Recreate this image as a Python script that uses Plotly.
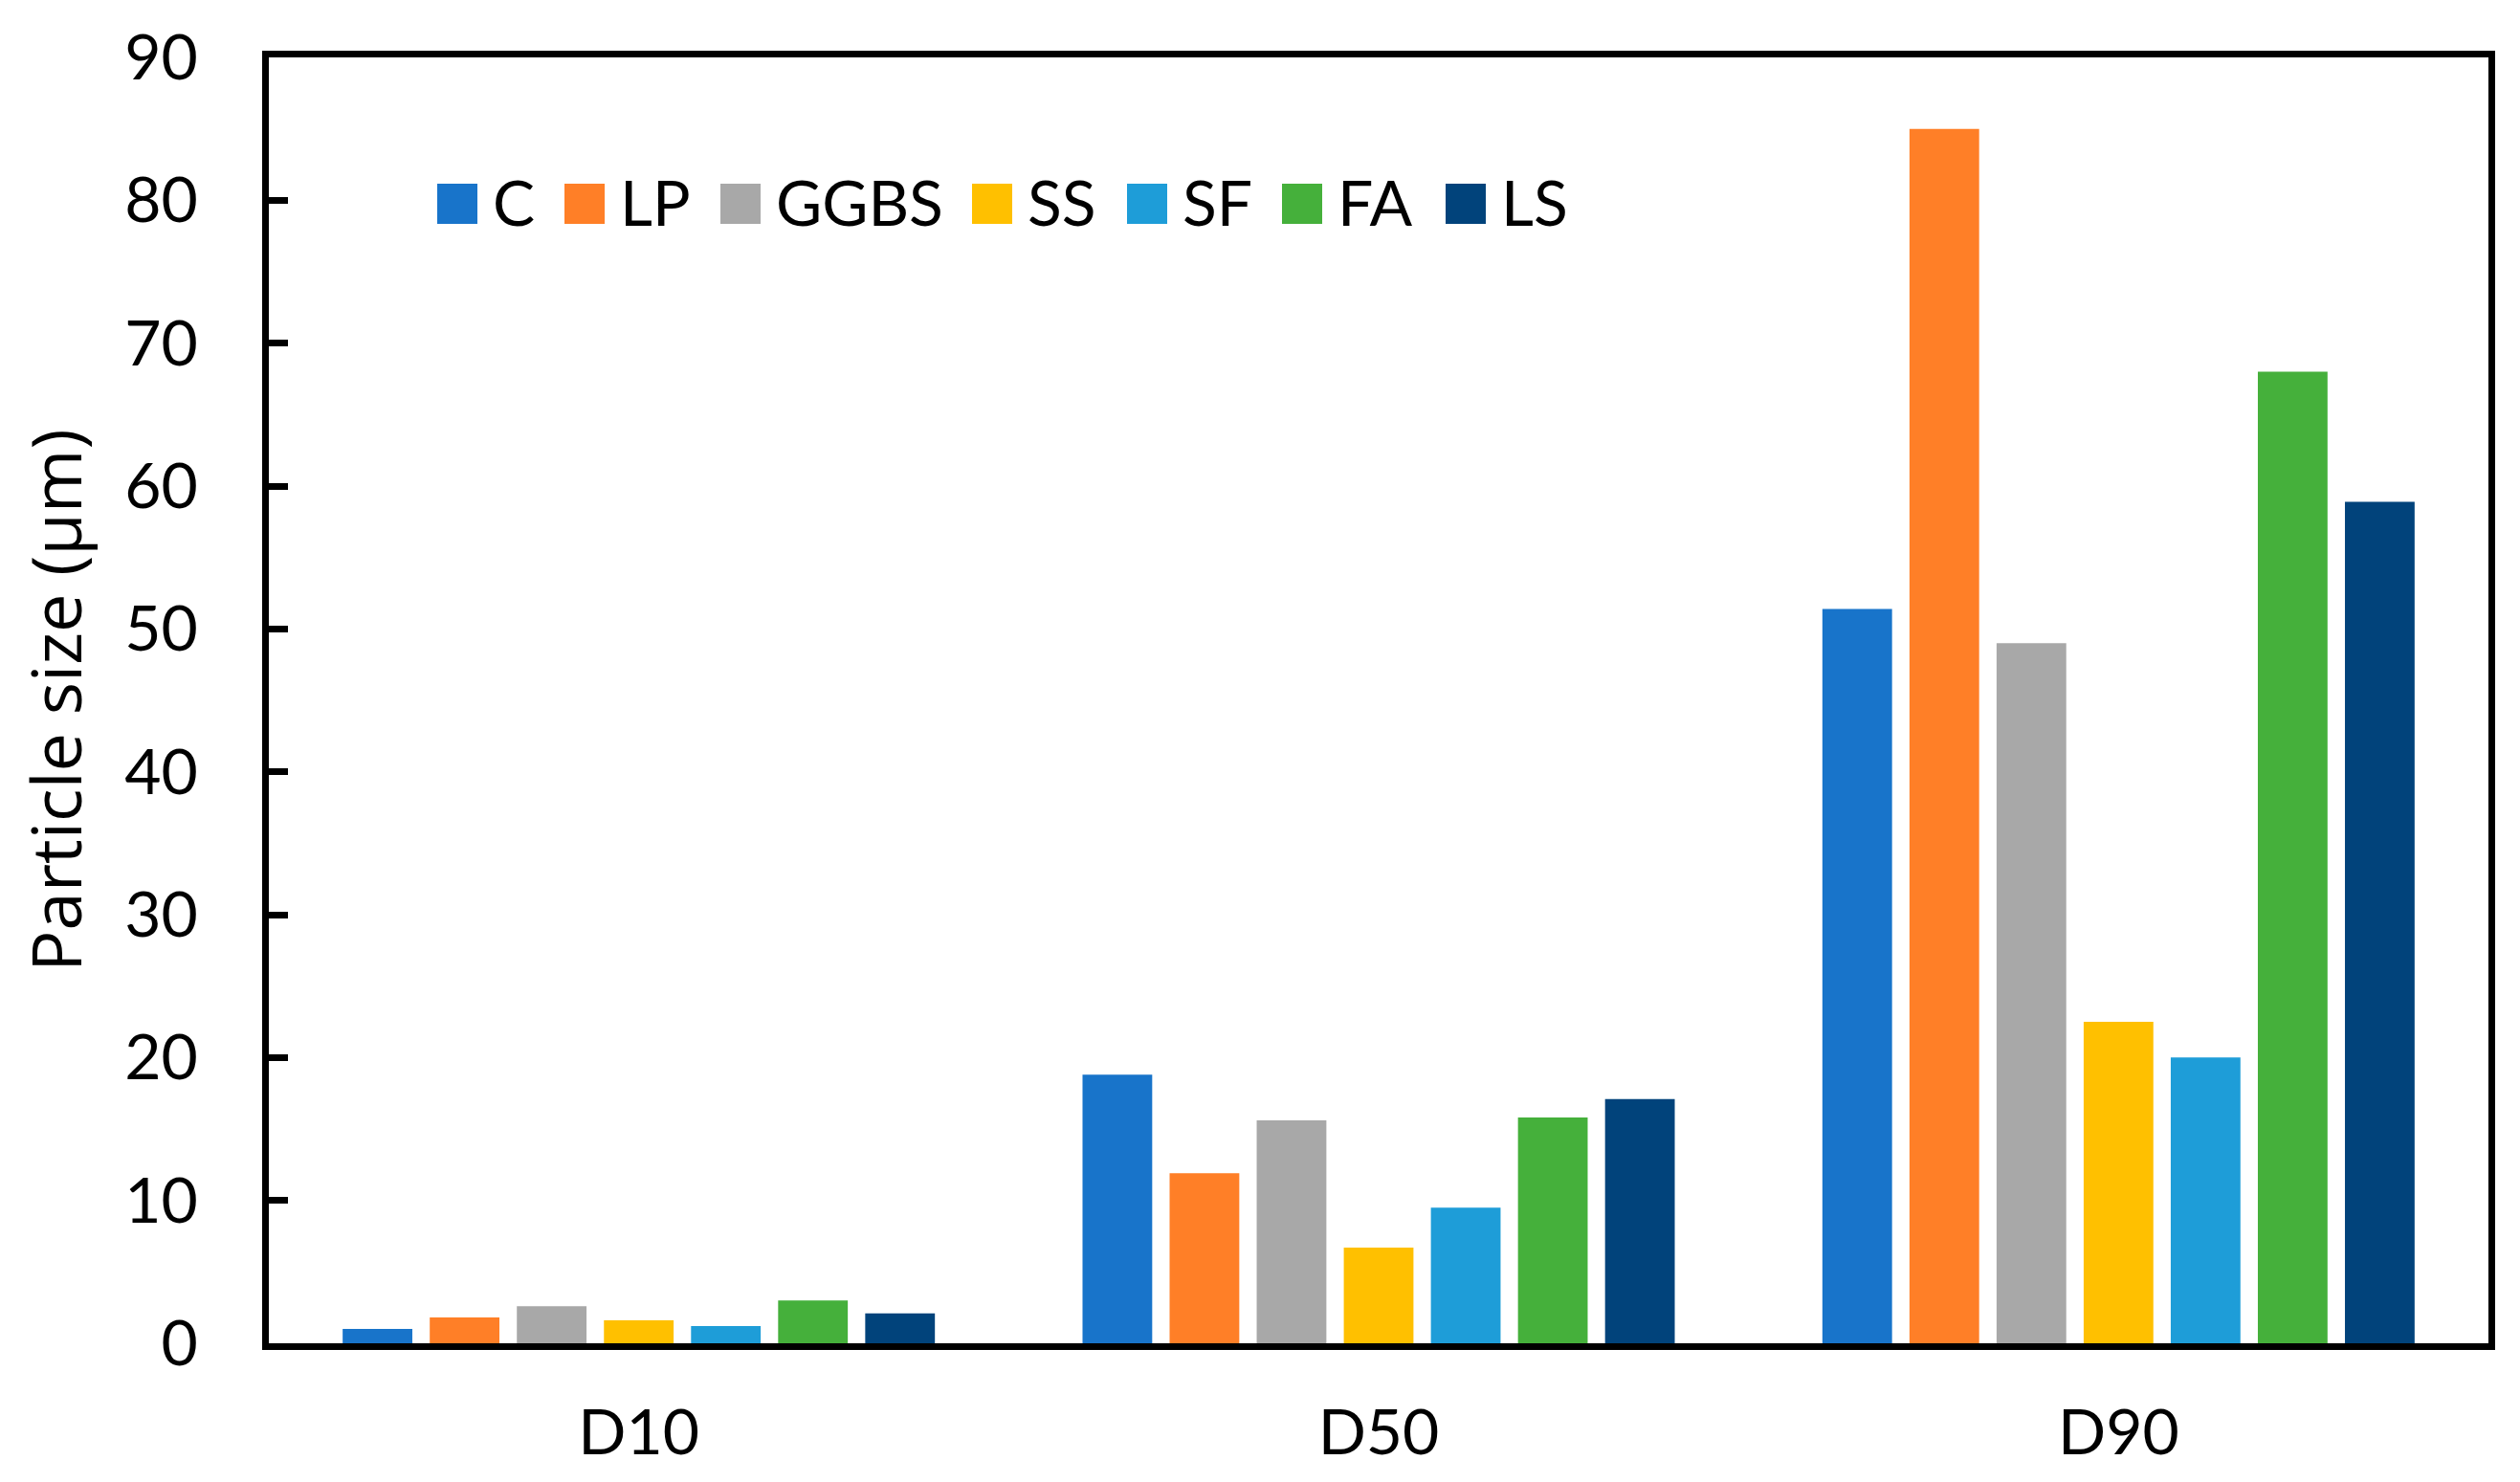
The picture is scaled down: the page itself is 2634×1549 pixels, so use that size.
import plotly.graph_objects as go

# ---------------- data ----------------
categories = ["D10", "D50", "D90"]
series_names = ["C", "LP", "GGBS", "SS", "SF", "FA", "LS"]
C_vals = [1.0, 18.8, 51.4]
LP_vals = [1.8, 11.9, 85.0]
GGBS_vals = [2.6, 15.6, 49.0]
SS_vals = [1.6, 6.7, 22.5]
SF_vals = [1.2, 9.5, 20.0]
FA_vals = [3.0, 15.8, 68.0]
LS_vals = [2.1, 17.1, 58.9]
y_ticks = [0, 10, 20, 30, 40, 50, 60, 70, 80, 90]
y_title = "Particle size (µm)"

series_values = [C_vals, LP_vals, GGBS_vals, SS_vals, SF_vals, FA_vals, LS_vals]
colors = ["#1874CA", "#FF7F27", "#A8A8A8", "#FFC000", "#1E9DD8", "#45B03B", "#01437B"]

# ---------------- layout geometry (page pixels) ----------------
OFF = 8  # default body margin of the html page
W, H = 2634 - OFF, 1549 - OFF
L, R, T, B = 281 - OFF, 2601 - OFF, 60 - OFF, 1404 - OFF  # plot area edges (figure px)

fig = go.Figure()
for name, vals, col in zip(series_names, series_values, colors):
    fig.add_trace(go.Bar(x=categories, y=vals, name=name, marker_color=col,
                         marker_line_width=0, showlegend=False))

# custom legend (large square swatches like the reference), page px
leg_swatch_left = [457, 590, 753, 1016, 1178, 1340, 1511]
sw_size = 42
sw_top = 192
pw, ph = R - L, B - T

def px_x(p):
    return (p - OFF - L) / pw

def px_y(p):
    return (B - (p - OFF)) / ph

shapes = []
annotations = []
for name, col, xl in zip(series_names, colors, leg_swatch_left):
    shapes.append(dict(type="rect", xref="paper", yref="paper",
                       x0=px_x(xl), x1=px_x(xl + sw_size),
                       y0=px_y(sw_top + sw_size), y1=px_y(sw_top),
                       fillcolor=col, line=dict(width=0)))
    annotations.append(dict(text=name, xref="paper", yref="paper",
                            x=px_x(xl + 56), y=px_y(sw_top + sw_size / 2 - 3),
                            xanchor="left", yanchor="middle", showarrow=False,
                            font=dict(family="Lato", size=66, color="black")))

fig.update_layout(
    width=W, height=H,
    margin=dict(l=L, r=W - R, t=T, b=H - B, autoexpand=False),
    paper_bgcolor="white", plot_bgcolor="white",
    barmode="group", bargap=0.176, bargroupgap=0.2,
    shapes=shapes, annotations=annotations,
    showlegend=False,
    font=dict(family="Lato", size=66, color="black"),
)
fig.update_xaxes(
    type="category", showline=True, linewidth=7, linecolor="black", mirror=True,
    ticks="", showgrid=False, zeroline=False,
    tickfont=dict(family="Lato", size=66, color="black"),
    ticklabelstandoff=30,
)
fig.update_yaxes(
    range=[0, 90], tickvals=y_ticks, showline=True, linewidth=7, linecolor="black",
    mirror=True, ticks="inside", ticklen=20, tickwidth=7, tickcolor="black",
    showgrid=False, zeroline=False,
    tickfont=dict(family="Lato", size=66, color="black"),
    ticklabelstandoff=54,
    title=dict(text=y_title, font=dict(family="Open Sans", size=72, color="black"),
               standoff=48),
)

fig.write_html("out.html")
